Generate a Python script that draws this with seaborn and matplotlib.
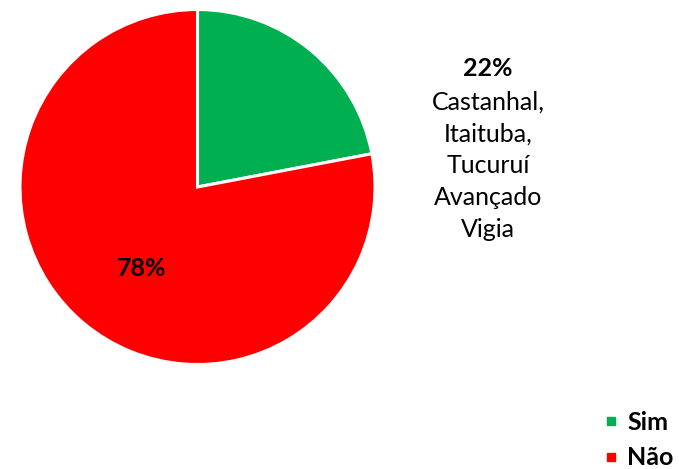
import matplotlib
matplotlib.use("Agg")
import matplotlib.pyplot as plt
from matplotlib.lines import Line2D
import seaborn as sns

categories = ["Sim", "Não"]
values = [22, 78]
colors = ["#00B050", "#FF0000"]
sim_detail = ["Castanhal,", "Itaituba,", "Tucuruí", "Avançado", "Vigia"]

sns.set_theme(style="white")
plt.rcParams["font.family"] = ["Lato", "DejaVu Sans"]
plt.rcParams["text.color"] = "black"

fig = plt.figure(figsize=(6.79, 4.69), dpi=100)
W, H = 679, 469
cx, cy, r = 197.5, 187.0, 177.5
ax = fig.add_axes([(cx - r) / W, (H - cy - r) / H, 2 * r / W, 2 * r / H])

palette = sns.color_palette(colors)
wedges, _ = ax.pie(values, colors=palette, startangle=90, counterclock=False,
                   radius=1.0, wedgeprops=dict(edgecolor="white", linewidth=2.2))
ax.set_xlim(-1, 1)
ax.set_ylim(-1, 1)
ax.set_aspect("equal")
ax.axis("off")

fs = 18
# percentage labels
fig.text(142 / W, 1 - 268 / H, f"{values[1]}%", ha="center", va="center",
         fontsize=fs, fontweight="bold", color="black")
fig.text(488 / W, 1 - 68 / H, f"{values[0]}%", ha="center", va="center",
         fontsize=fs, fontweight="bold", color="black")
for i, line in enumerate(sim_detail):
    fig.text(488 / W, 1 - (102 + 31.8 * i) / H, line, ha="center", va="center",
             fontsize=fs, color="black")

handles = [Line2D([0], [0], marker="s", linestyle="", markersize=6,
                  markerfacecolor=c, markeredgecolor=c) for c in palette]
leg = fig.legend(handles, categories, loc="center left",
                 bbox_to_anchor=(603 / W, 1 - 440 / H), frameon=False,
                 borderaxespad=0, borderpad=0,
                 handletextpad=0.36, labelspacing=0.5, handlelength=0.6,
                 prop=dict(size=fs, weight="bold"))
for t in leg.get_texts():
    t.set_color("black")

fig.savefig("out.png", dpi=100)
